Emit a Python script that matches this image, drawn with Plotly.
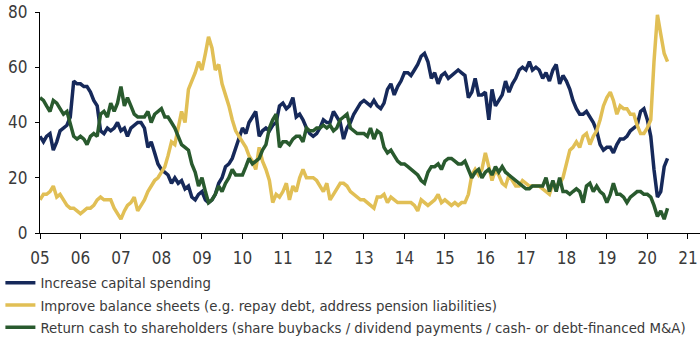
import pandas as pd
import plotly.graph_objects as go

# Monthly survey readings, Jan 2005 - Jul 2020 (%)
capex = [
    35, 33, 35, 36, 30, 33, 37, 38, 39, 42, 55, 54,   # 2005
    54, 53, 53, 51, 48, 46, 37, 36, 38, 37, 38, 40,   # 2006
    37, 38, 35, 38, 39, 40, 40, 38, 31, 33, 29, 25,   # 2007
    23, 22, 21, 18, 20, 18, 19, 16, 17, 13, 12, 14,   # 2008
    15, 12, 11, 12, 14, 18, 20, 24, 25, 27, 31, 35,   # 2009
    38, 36, 40, 42, 44, 35, 37, 38, 37, 39, 40, 46,   # 2010
    47, 45, 46, 49, 42, 43, 41, 38, 36, 35, 36, 38,   # 2011
    41, 40, 40, 44, 42, 40, 34, 38, 40, 43, 45, 47,   # 2012
    48, 47, 46, 48, 46, 45, 47, 52, 54, 50, 53, 55,   # 2013
    58, 58, 57, 59, 61, 64, 65, 62, 56, 58, 54, 57,   # 2014
    58, 56, 57, 58, 59, 58, 57, 49, 51, 56, 50, 50,   # 2015
    51, 41, 52, 46, 48, 50, 55, 51, 54, 56, 59, 60,   # 2016
    59, 62, 59, 60, 59, 56, 58, 55, 59, 61, 54, 57,   # 2017
    55, 52, 48, 45, 43, 43, 44, 42, 40, 37, 32, 30,   # 2018
    31, 31, 29, 32, 34, 34, 35, 37, 38, 39, 44, 45,   # 2019
    41, 35, 23, 13, 15, 24, 27,                       # 2020
]
balance = [
    12, 14, 14, 15, 17, 13, 14, 12, 10, 9, 9, 8,
    7, 8, 9, 9, 10, 12, 13, 12, 12, 12, 9, 7,
    5, 8, 10, 11, 13, 8, 10, 12, 15, 17, 19, 20,
    22, 24, 28, 33, 32, 38, 44, 40, 52, 55, 58, 62,
    59, 65, 71, 67, 59, 61, 54, 50, 46, 41, 37, 35,
    33, 31, 28, 26, 23, 31, 26, 23, 19, 11, 14, 13,
    15, 18, 12, 17, 15, 20, 23, 20, 20, 20, 19, 17,
    15, 18, 12, 14, 16, 18, 18, 17, 15, 14, 13, 12,
    12, 11, 10, 9, 13, 13, 14, 11, 13, 12, 11, 11,
    11, 11, 11, 10, 8, 12, 11, 10, 11, 12, 14, 11,
    12, 11, 10, 11, 10, 11, 11, 14, 21, 23, 21, 23,
    29, 24, 19, 23, 21, 18, 17, 21, 19, 17, 17, 19,
    18, 17, 17, 17, 17, 16, 15, 14, 18, 17, 18, 20,
    25, 30, 31, 33, 31, 35, 36, 32, 35, 37, 41, 46,
    49, 51, 48, 43, 46, 45, 45, 43, 43, 39, 36, 36,
    38, 41, 62, 79, 72, 65, 62,
]
cash = [
    49, 48, 46, 44, 48, 47, 45, 43, 44, 40, 35, 34,
    35, 34, 32, 35, 36, 35, 43, 44, 42, 47, 44, 47,
    53, 46, 49, 46, 43, 42, 42, 42, 44, 40, 43, 44,
    45, 42, 42, 40, 38, 35, 32, 31, 30, 25, 22, 17,
    20, 15, 11, 12, 14, 17, 15, 18, 20, 23, 21, 21,
    21, 24, 27, 25, 26, 27, 30, 32, 38, 41, 43, 31,
    33, 33, 32, 34, 35, 35, 33, 38, 37, 37, 38, 38,
    39, 38, 39, 37, 38, 41, 42, 43, 38, 37, 36, 36,
    36, 35, 38, 34, 37, 36, 31, 29, 30, 28, 26, 25,
    25, 24, 23, 22, 21, 19, 18, 22, 24, 24, 25, 23,
    26, 27, 27, 26, 25, 25, 26, 23, 20, 22, 23, 20,
    22, 23, 21, 24, 22, 24, 22, 21, 20, 19, 18, 17,
    16, 16, 17, 17, 17, 17, 20, 15, 19, 15, 20, 15,
    15, 14, 15, 16, 15, 11, 17, 18, 15, 17, 15, 14,
    11, 14, 18, 14, 14, 13, 11, 13, 14, 15, 15, 14,
    14, 13, 10, 6, 8, 5, 9,
]

series_names = [
    "Increase capital spending",
    "Improve balance sheets (e.g. repay debt, address pension liabilities)",
    "Return cash to shareholders (share buybacks / dividend payments / cash- or debt-financed M&A)",
]
series_colors = ["#16295a", "#e1bf55", "#295a2e"]

tick_years = list(range(2005, 2022))
tick_labels = [f"{y % 100:02d}" for y in tick_years]

months = pd.date_range("2005-01-01", periods=len(capex), freq="MS")

FONT = "Liberation Sans Narrow, Arial Narrow, DejaVu Sans Condensed, sans-serif"

fig = go.Figure()
for name, vals, col in zip(series_names, [capex, balance, cash], series_colors):
    fig.add_trace(go.Scatter(x=months, y=vals, mode="lines", name=name,
                             line=dict(color=col, width=3.5)))

fig.update_layout(
    width=700, height=350,
    margin=dict(l=35, r=0, t=12, b=117),
    paper_bgcolor="white", plot_bgcolor="white",
    font=dict(family=FONT, size=16, color="#3a3a3a"),
    showlegend=True,
    legend=dict(x=-0.06, y=-0.152, xanchor="left", yanchor="top",
                orientation="v", bgcolor="rgba(0,0,0,0)",
                font=dict(family=FONT, size=14.8, color="#3a3a3a"),
                tracegroupgap=0, itemwidth=30),
)
fig.update_xaxes(
    type="date",
    range=["2005-01-01", "2021-04-20"],
    tickvals=[f"{y}-01-01" for y in tick_years], ticktext=tick_labels,
    showline=True, linecolor="#000000", linewidth=1.3,
    ticks="outside", ticklen=5, tickcolor="#000000",
    showgrid=False, zeroline=False, ticklabelstandoff=4,
    tickfont=dict(family=FONT, size=17, color="#3a3a3a"),
)
fig.update_yaxes(
    range=[0, 80], tickvals=[0, 20, 40, 60, 80],
    showline=True, linecolor="#000000", linewidth=1.3,
    ticks="outside", ticklen=4, tickcolor="#000000",
    showgrid=False, zeroline=False, ticklabelstandoff=4,
    tickfont=dict(family=FONT, size=17, color="#3a3a3a"),
)

fig.write_html("out.html")
